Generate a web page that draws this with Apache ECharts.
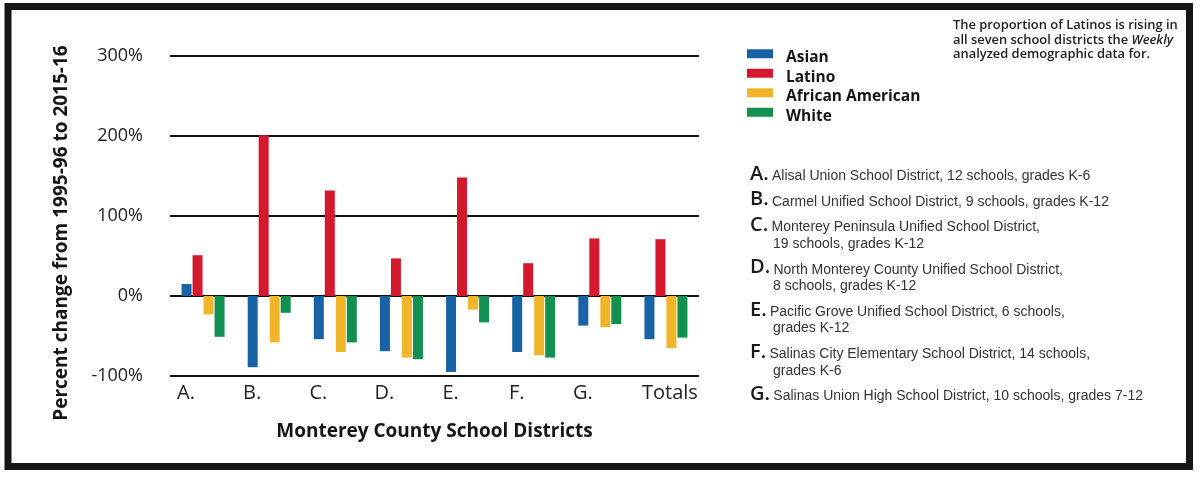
<!DOCTYPE html>
<html>
<head>
<meta charset="utf-8">
<script src="https://cdn.jsdelivr.net/npm/echarts@6/dist/echarts.min.js"></script>
<style>
  html, body { margin: 0; padding: 0; background: #fff; }
  #chart { width: 1200px; height: 479px; }
</style>
</head>
<body>
<div id="chart"></div>
<script>
// values (percent change 1995-96 to 2015-16)
const districts = ["A.", "B.", "C.", "D.", "E.", "F.", "G.", "Totals"];
const asian = [15, -89, -54, -69, -95, -70, -37, -54];
const latino = [51, 201, 132, 47, 148, 41, 72, 71];
const africanAmerican = [-23, -58, -70, -77, -17, -74, -39, -65];
const white = [-51, -21, -58, -79, -33, -77, -35, -52];
const yMin = -100;
const yMax = 300;
const yStep = 100;

const groupNames = ["Asian", "Latino", "African American", "White"];
const groupColors = ["#1763a6", "#d4192f", "#f1b52a", "#12904f"];

const districtKey = [
  ["A.", "Alisal Union School District, 12 schools, grades K-6"],
  ["B.", "Carmel Unified School District, 9 schools, grades K-12"],
  ["C.", "Monterey Peninsula Unified School District,", "19 schools, grades K-12"],
  ["D.", "North Monterey County Unified School District,", "8 schools, grades K-12"],
  ["E.", "Pacific Grove Unified School District, 6 schools,", "grades K-12"],
  ["F.", "Salinas City Elementary School District, 14 schools,", "grades K-6"],
  ["G.", "Salinas Union High School District, 10 schools, grades 7-12"]
];

const chart = echarts.init(document.getElementById("chart"));

// key on the right, one text per line
const keyGraphics = [];
let keyY = 175;
districtKey.forEach(row => {
  keyGraphics.push({
    type: "text",
    left: 750,
    top: keyY - 11,
    style: {
      text: "{l|" + row[0] + "} {t|" + row[1] + "}",
      rich: {
        l: { font: "600 20px 'Open Sans'", fill: "#1a1a1a", verticalAlign: "bottom" },
        t: { font: "14px 'Liberation Sans'", fill: "#333", verticalAlign: "bottom", padding: [0, 0, 1, 0] }
      }
    }
  });
  if (row[2]) {
    keyY += 16.6;
    keyGraphics.push({
      type: "text",
      left: 773,
      top: keyY - 6,
      style: { text: row[2], font: "14px 'Liberation Sans'", fill: "#333" }
    });
  }
  keyY += 25.7;
});

const option = {
  backgroundColor: "#fff",
  animation: false,
  textStyle: { fontFamily: "'Open Sans', sans-serif" },
  grid: {
    left: 170,
    right: 501,
    top: 56,
    bottom: 103
  },
  legend: {
    orient: "vertical",
    left: 747,
    top: 48,
    padding: 0,
    itemWidth: 26,
    itemHeight: 17,
    itemGap: 0,
    // swatch sits in the upper part of the item, text a bit lower
    icon: "path://M0,0L26,0L26,9L0,9Z M0,17L0.01,17",
    selectedMode: false,
    data: groupNames,
    textStyle: {
      fontSize: 15.5,
      fontWeight: 700,
      color: "#151515",
      lineHeight: 19.5,
      padding: [0, 0, 0, 8]
    }
  },
  xAxis: {
    type: "category",
    data: districts,
    name: "Monterey County School Districts",
    nameLocation: "middle",
    nameGap: 46,
    nameTextStyle: { fontSize: 19, fontWeight: 700, color: "#151515" },
    axisLine: { show: false },
    axisTick: { show: false },
    axisLabel: {
      interval: 0,
      hideOverlap: false,
      margin: 7,
      formatter: v => (v === "Totals" ? "{t|" + v + "}" : "{c|" + v + "}"),
      rich: {
        c: { fontSize: 20, color: "#222", padding: [0, 34, 0, 0] },
        t: { fontSize: 20, color: "#222", padding: [0, 0, 0, 8] }
      }
    }
  },
  yAxis: {
    type: "value",
    min: yMin,
    max: yMax,
    interval: yStep,
    axisLine: { show: false },
    axisTick: { show: false },
    axisLabel: {
      formatter: "{value}%",
      fontSize: 18,
      color: "#222",
      margin: 27
    },
    splitLine: { lineStyle: { color: "#111", width: 2 } }
  },
  series: [asian, latino, africanAmerican, white].map((vals, i) => ({
    name: groupNames[i],
    type: "bar",
    barWidth: 10,
    barGap: "10%",
    itemStyle: { color: groupColors[i] },
    data: vals
  })),
  graphic: [
    {
      type: "rect",
      shape: { x: 8, y: 6.5, width: 1181.5, height: 460 },
      style: { fill: "none", stroke: "#161616", lineWidth: 7 },
      silent: true
    },
    {
      type: "text",
      x: 62,
      y: 233,
      rotation: Math.PI / 2,
      style: {
        text: "Percent change from 1995-96 to 2015-16",
        font: "700 19px 'Open Sans'",
        fill: "#151515",
        align: "center",
        verticalAlign: "middle"
      }
    },
    {
      type: "text",
      left: 953,
      top: 19,
      style: {
        text: "{a|The proportion of Latinos is rising in}\n{a|all seven school districts the }{i|Weekly}\n{a|analyzed demographic data for.}",
        rich: {
          a: { font: "600 12.9px 'Open Sans'", fill: "#222", lineHeight: 14.6 },
          i: { font: "italic 600 12.9px 'Open Sans'", fill: "#222", lineHeight: 14.6 }
        }
      }
    }
  ].concat(keyGraphics)
};

chart.setOption(option);
</script>
</body>
</html>
